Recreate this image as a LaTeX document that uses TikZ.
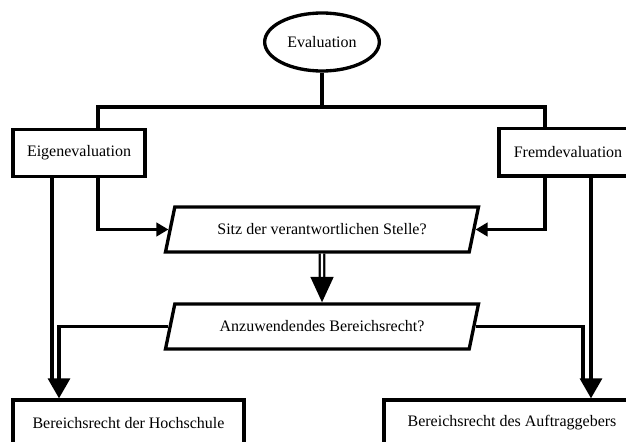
\documentclass[tikz,border=0pt]{standalone}
\usepackage{fontspec}
\setmainfont{Liberation Serif}
\usetikzlibrary{shapes.geometric,arrows.meta}

\tikzset{
    box/.style={draw, line width=2.5pt, inner sep=0pt, minimum height=35.5pt},
    oval/.style={ellipse, draw, line width=2.5pt, inner sep=0pt, minimum width=86pt, minimum height=43.5pt},
    raute/.style={trapezium, trapezium left angle=50.6, trapezium right angle=129.4,
        trapezium stretches body, draw, line width=2.5pt, inner sep=0pt,
        minimum width=234.75pt, minimum height=33.75pt},
    link/.style={line width=2.5pt},
    flow/.style={line width=2.5pt, -{Triangle[length=9pt,width=10pt]}},
    bigflow/.style={line width=2.5pt, -{Triangle[length=15pt,width=16.5pt]}},
    dbl/.style={double, line width=1.8pt, double distance=1.6pt, -{Triangle[length=19pt,width=17pt]}}
}

\begin{document}
\begin{tikzpicture}[x=0.75pt, y=-0.75pt, font=\fontsize{12pt}{14pt}\selectfont]
    \useasboundingbox (0,0) rectangle (626,442);
    \clip (0,0) rectangle (626,442);

    \node[oval] (eval) at (322,42) {Evaluation};
    \node[box, minimum width=99pt] (eigen) at (79,153) {Eigenevaluation};
    \node[box, minimum width=103.5pt] (fremd) at (568,152.5) {Fremdevaluation};
    \node[raute] (sitz) at (322,229.5) {Sitz der verantwortlichen Stelle?};
    \node[raute] (anwend) at (322,326.5) {Anzuwendendes Bereichsrecht?};
    \node[box, minimum width=173.25pt, minimum height=34.5pt] (hochschule) at (128.5,423) {Bereichsrecht der Hochschule};
    \node[box, minimum width=192pt, minimum height=34.5pt] (auftrag) at (512,423) {Bereichsrecht des Auftraggebers};

    % Verzweigung
    \coordinate (bar) at (322,107);
    \coordinate (jl) at (98,0);
    \coordinate (jr) at (545,0);
    \coordinate (ll) at (52,0);
    \coordinate (lr) at (59,0);
    \coordinate (rl) at (583,0);
    \coordinate (rr) at (591,0);

    \draw[link] (eval) -- (bar);
    \draw[link] (eigen.north -| jl) |- (bar) -| (fremd.north -| jr);

    \draw[flow] (eigen.south -| jl) |- (sitz.left side);
    \draw[flow] (fremd.south -| jr) |- (sitz.right side);

    \draw[dbl] (sitz.south) -- (anwend.north);

    \draw[link, shorten >=14pt] (eigen.south -| ll) -- (hochschule.north -| ll);
    \draw[bigflow] (anwend.left side) -| (hochschule.north -| lr);
    \draw[link, shorten >=14pt] (anwend.right side) -| (auftrag.north -| rl);
    \draw[bigflow] (fremd.south -| rr) -- (auftrag.north -| rr);
\end{tikzpicture}
\end{document}
